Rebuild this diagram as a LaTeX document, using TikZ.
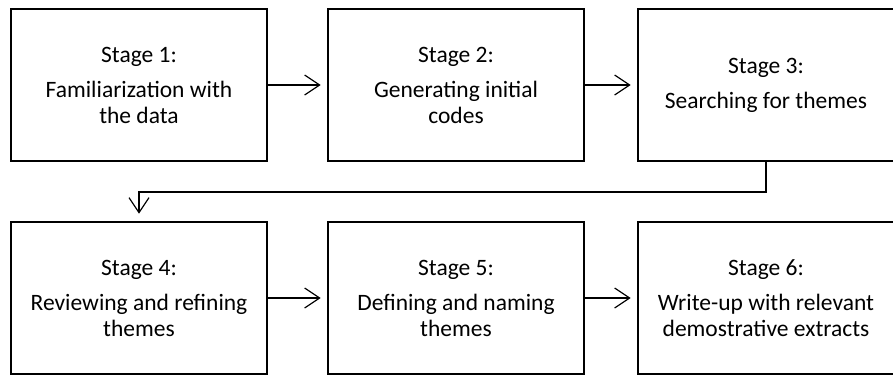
\documentclass[tikz,border=0pt]{standalone}
\usepackage{fontspec}
\setmainfont{Carlito}
\usetikzlibrary{arrows.meta}

\begin{document}
\begin{tikzpicture}[x=1pt,y=1pt,
  stagebox/.style={draw, line width=2.6pt, minimum width=256pt, minimum height=152pt,
    align=center, font=\fontsize{23.5}{26}\selectfont, inner sep=0pt},
  flow/.style={line width=1.2pt, -{Straight Barb[length=15pt,width=20pt,line width=1.2pt]}}]
\def\W{893}
\def\H{376}

\useasboundingbox (0,0) rectangle (\W,\H);

%Top row:
\node[stagebox] (S1) at (139,291) {Stage 1:\\[9pt] Familiarization with\\ the data};
\node[stagebox] (S2) at (456,291) {Stage 2:\\[9pt] Generating initial\\ codes};
\node[stagebox] (S3) at (766,291) {Stage 3:\\[9pt] Searching for themes};

%Bottom row:
\node[stagebox] (S4) at (139,78) {Stage 4:\\[9pt] Reviewing and refining\\ themes};
\node[stagebox] (S5) at (456,78) {Stage 5:\\[9pt] Defining and naming\\ themes};
\node[stagebox] (S6) at (766,78) {Stage 6:\\[9pt] Write-up with relevant\\ demostrative extracts};

\coordinate (turn) at (766,184);

\draw[flow, shorten >=6pt] (S1) -- (S2);
\draw[flow, shorten >=6pt] (S2) -- (S3);
\draw[flow, shorten >=7pt] (S3.south) -- (S3.south |- turn) -| (S4.north);
\draw[flow, shorten >=6pt] (S4) -- (S5);
\draw[flow, shorten >=6pt] (S5) -- (S6);

\end{tikzpicture}
\end{document}
